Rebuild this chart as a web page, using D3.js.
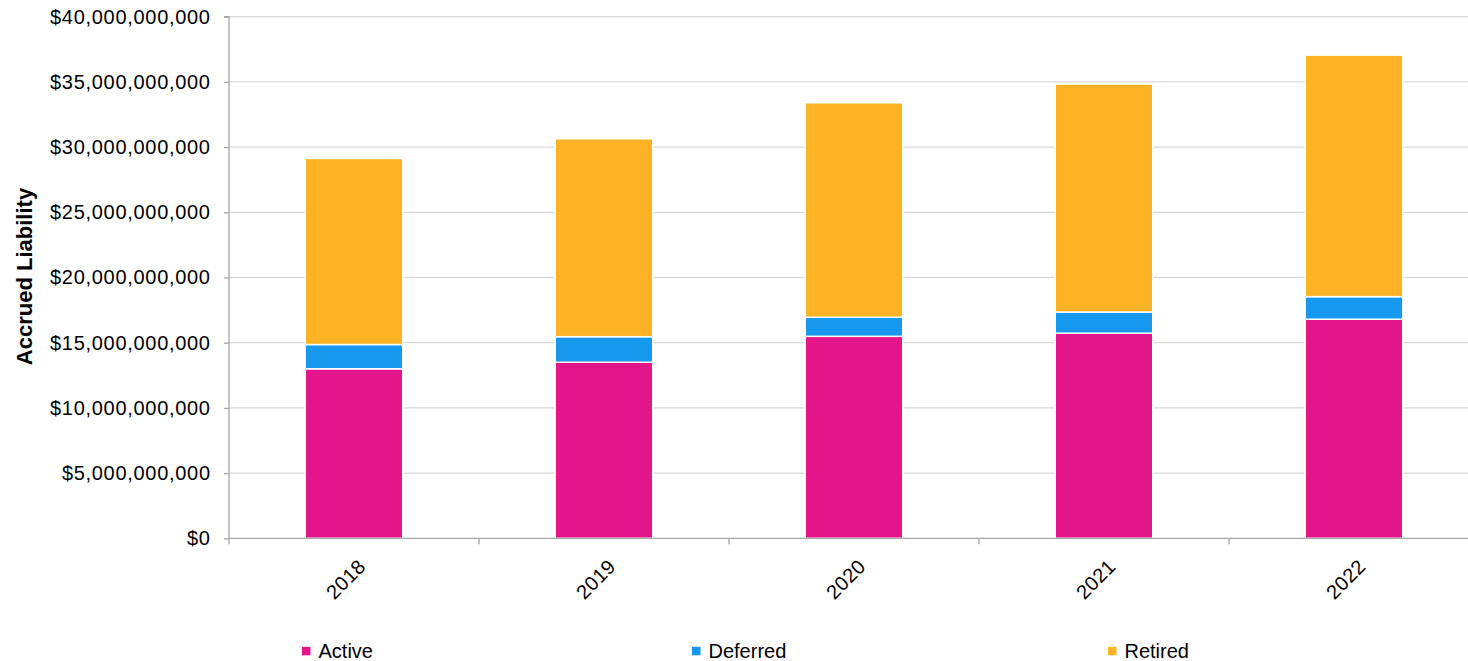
<!DOCTYPE html>
<html>
<head>
<meta charset="utf-8">
<script src="https://cdn.jsdelivr.net/npm/d3@7"></script>
<style>
  html, body { margin: 0; padding: 0; background: #ffffff; }
  svg { display: block; font-family: "Liberation Sans", Arial, sans-serif; }
</style>
</head>
<body>
<svg id="chart" width="1468" height="661"></svg>
<script>
// Accrued liability by member status, by valuation year
const years = ["2018", "2019", "2020", "2021", "2022"];
const active   = [13.00e9, 13.50e9, 15.49e9, 15.73e9, 16.80e9];
const deferred = [1.86e9, 1.96e9, 1.46e9, 1.62e9, 1.73e9];
const retired  = [14.27e9, 15.18e9, 16.45e9, 17.49e9, 18.52e9];
const seriesNames = ["Active", "Deferred", "Retired"];
const seriesColors = ["#e3158b", "#1598ee", "#fdb323"];
const yTicks = [0, 5e9, 10e9, 15e9, 20e9, 25e9, 30e9, 35e9, 40e9];

const rows = years.map((y, i) => ({ year: y, Active: active[i], Deferred: deferred[i], Retired: retired[i] }));

const svg = d3.select("#chart");
const plotLeft = 229, plotRight = 1479, plotTop = 16.7, plotBottom = 538.3;
const labelFont = "20px";

const x = d3.scaleBand().domain(years).range([plotLeft, plotRight]).paddingInner(0.61).paddingOuter(0.305);
const y = d3.scaleLinear().domain([0, 40e9]).range([plotBottom, plotTop]);

const fmt = v => "$" + d3.format(",")(v);

// horizontal gridlines
svg.append("g").selectAll("line").data(yTicks.slice(1)).join("line")
  .attr("x1", plotLeft).attr("x2", 1468)
  .attr("y1", d => y(d)).attr("y2", d => y(d))
  .attr("stroke", "#d9d9d9").attr("stroke-width", 1.3);

// stacked bars
const stack = d3.stack().keys(seriesNames)(rows);
const color = d3.scaleOrdinal().domain(seriesNames).range(seriesColors);
svg.append("g").selectAll("g").data(stack).join("g")
  .attr("fill", d => color(d.key))
  .selectAll("rect").data(d => d).join("rect")
  .attr("x", d => x(d.data.year))
  .attr("width", x.bandwidth())
  .attr("y", d => y(d[1]))
  .attr("height", d => y(d[0]) - y(d[1]))
  .attr("stroke", "#ffffff").attr("stroke-width", 1.5);

// y axis
const yAxis = d3.axisLeft(y).tickValues(yTicks).tickFormat(fmt).tickSize(5).tickPadding(13.3);
const gy = svg.append("g").attr("transform", `translate(${plotLeft},0)`).call(yAxis);
gy.attr("font-family", null).attr("font-size", null);
gy.select(".domain").attr("stroke", "#a6a6a6").attr("stroke-width", 1.3).attr("d", `M-5,${plotTop}H0V${plotBottom}`);
gy.selectAll(".tick line").attr("stroke", "#a6a6a6").attr("stroke-width", 1.3);
gy.selectAll(".tick text").attr("font-size", labelFont).attr("letter-spacing", "0.7px").attr("fill", "#000");

// x axis line and category separators
const gx = svg.append("g");
gx.append("line").attr("x1", plotLeft).attr("x2", 1468).attr("y1", plotBottom).attr("y2", plotBottom)
  .attr("stroke", "#a6a6a6").attr("stroke-width", 1.3);
const step = x.step();
gx.selectAll("line.sep").data(years).join("line").attr("class", "sep")
  .attr("x1", (d, i) => plotLeft + i * step).attr("x2", (d, i) => plotLeft + i * step)
  .attr("y1", plotBottom).attr("y2", plotBottom + 6)
  .attr("stroke", "#a6a6a6").attr("stroke-width", 1.3);

// rotated year labels
gx.selectAll("text").data(years).join("text")
  .attr("transform", d => `translate(${x(d) + x.bandwidth() / 2 + 13},${plotBottom + 29.5}) rotate(-45)`)
  .attr("text-anchor", "end")
  .attr("font-size", labelFont).attr("letter-spacing", "0.4px").attr("fill", "#000")
  .text(d => d);

// axis title
svg.append("text")
  .attr("transform", `translate(32,276.5) rotate(-90)`)
  .attr("text-anchor", "middle")
  .attr("font-size", "22px").attr("font-weight", "bold").attr("fill", "#000")
  .text("Accrued Liability");

// legend
const legendX = [302, 692, 1108];
const lg = svg.append("g").selectAll("g").data(seriesNames).join("g")
  .attr("transform", (d, i) => `translate(${legendX[i]},651)`);
lg.append("rect").attr("x", 0).attr("y", -4.2).attr("width", 8.5).attr("height", 8.5).attr("fill", d => color(d));
lg.append("text").attr("x", 16.5).attr("dy", "0.35em").attr("font-size", labelFont).attr("fill", "#000").text(d => d);
</script>
</body>
</html>
